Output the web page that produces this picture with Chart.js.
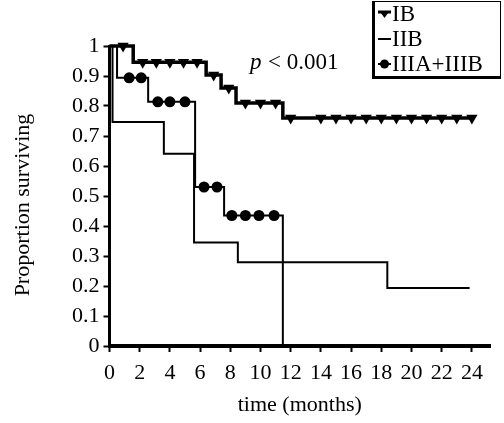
<!DOCTYPE html>
<html>
<head>
<meta charset="utf-8">
<script src="https://cdn.jsdelivr.net/npm/chart.js@4.4.0/dist/chart.umd.min.js"></script>
<style>
  html, body { margin: 0; padding: 0; background: #fff; }
  #wrap { width: 504px; height: 423px; }
</style>
</head>
<body>
<div id="wrap"><canvas id="km"></canvas></div>
<script>
// Kaplan-Meier step curves: [time, proportion] at each step
const groups = ["IB", "IIB", "IIIA+IIIB"];
const ibSteps = [[0, 1], [1.57, 0.946], [6.4, 0.903], [7.39, 0.86], [8.38, 0.81], [11.48, 0.76], [24.1, 0.76]];
const iibSteps = [[0, 1], [0.2, 0.747], [3.6, 0.641], [5.6, 0.345], [8.5, 0.279], [18.4, 0.193], [23.85, 0.193]];
const iiiSteps = [[0, 1], [0.5, 0.894], [2.56, 0.814], [5.67, 0.53], [7.59, 0.435], [11.48, 0]];

// censored observations
const ibCensored = [[0.9, 1], [2.2, 0.946], [3.1, 0.946], [4.0, 0.946], [4.9, 0.946], [5.8, 0.946],
  [6.9, 0.903], [7.9, 0.86], [9.0, 0.81], [10.0, 0.81], [11.0, 0.81],
  [12, 0.76], [14, 0.76], [15, 0.76], [16, 0.76], [17, 0.76], [18, 0.76], [19, 0.76],
  [20, 0.76], [21, 0.76], [22, 0.76], [23, 0.76], [24, 0.76]];
const iiiCensored = [[1.3, 0.894], [2.1, 0.894], [3.2, 0.814], [4.0, 0.814], [5.0, 0.814],
  [6.26, 0.53], [7.12, 0.53], [8.1, 0.435], [9.0, 0.435], [9.9, 0.435], [10.9, 0.435]];

const xTicks = [0, 2, 4, 6, 8, 10, 12, 14, 16, 18, 20, 22, 24];
const yTicks = [0, 0.1, 0.2, 0.3, 0.4, 0.5, 0.6, 0.7, 0.8, 0.9, 1];
const pText = "< 0.001";
const yTitle = "Proportion surviving";

const toPts = arr => arr.map(([x, y]) => ({x, y}));
const serif = "'Liberation Serif', 'DejaVu Serif', serif";

const overlay = {
  id: "overlay",
  afterDraw(chart) {
    const ctx = chart.ctx;
    ctx.save();
    ctx.fillStyle = "#000";
    ctx.textBaseline = "middle";

    // y axis title (drawn here so it can sit a little below centre, as in the original)
    ctx.save();
    ctx.translate(23, 205);
    ctx.rotate(-Math.PI / 2);
    ctx.textAlign = "center";
    ctx.font = "22px " + serif;
    ctx.fillText(yTitle, 0, 0);
    ctx.restore();

    // p value
    ctx.font = "italic 23px " + serif;
    ctx.fillText("p", 250, 63);
    ctx.font = "23px " + serif;
    ctx.fillText(pText, 268, 63);

    // legend box
    ctx.strokeStyle = "#000";
    ctx.lineWidth = 1;
    ctx.strokeRect(373.5, 1.5, 127, 76);
    ctx.fillRect(372, 1, 3, 78);
    ctx.fillRect(372, 76, 129, 3);

    const rows = [14, 39, 64];
    ctx.font = "23px " + serif;
    // IB
    ctx.lineWidth = 3;
    ctx.beginPath(); ctx.moveTo(378, rows[0] - 2); ctx.lineTo(391, rows[0] - 2); ctx.stroke();
    ctx.beginPath(); ctx.moveTo(379.5, rows[0] - 3); ctx.lineTo(389.5, rows[0] - 3); ctx.lineTo(384.5, rows[0] + 4); ctx.closePath(); ctx.fill();
    ctx.fillText(groups[0], 392, rows[0] + 1);
    // IIB
    ctx.lineWidth = 2;
    ctx.beginPath(); ctx.moveTo(378, rows[1]); ctx.lineTo(391, rows[1]); ctx.stroke();
    ctx.fillText(groups[1], 392, rows[1] + 1);
    // IIIA+IIIB
    ctx.beginPath(); ctx.moveTo(378, rows[2]); ctx.lineTo(391, rows[2]); ctx.stroke();
    ctx.beginPath(); ctx.arc(384.5, rows[2], 4.5, 0, Math.PI * 2); ctx.fill();
    ctx.fillText(groups[2], 392, rows[2] + 1);
    ctx.restore();
  }
};

new Chart(document.getElementById("km"), {
  type: "line",
  data: {
    datasets: [
      { label: groups[0], data: toPts(ibSteps), stepped: "before", borderColor: "#000", borderWidth: 3.5, pointRadius: 0, clip: false },
      { label: groups[1], data: toPts(iibSteps), stepped: "before", borderColor: "#000", borderWidth: 2, pointRadius: 0, clip: false },
      { label: groups[2], data: toPts(iiiSteps), stepped: "before", borderColor: "#000", borderWidth: 2, pointRadius: 0, clip: false },
      { label: groups[0] + " censored", data: toPts(ibCensored), showLine: false, pointStyle: "triangle", rotation: 180,
        pointRadius: 6.5, backgroundColor: "#000", borderColor: "#000", borderWidth: 0, clip: false },
      { label: groups[2] + " censored", data: toPts(iiiCensored), showLine: false, pointStyle: "circle",
        pointRadius: 5.5, backgroundColor: "#000", borderColor: "#000", borderWidth: 0, clip: false }
    ]
  },
  options: {
    responsive: true,
    maintainAspectRatio: false,
    animation: false,
    layout: { padding: { left: 0, right: 14, top: 46, bottom: 4 } },
    plugins: { legend: { display: false }, tooltip: { enabled: false } },
    scales: {
      x: {
        type: "linear",
        min: 0,
        max: 25.2,
        afterFit: s => { s.height = 73; },
        afterBuildTicks: s => { s.ticks = xTicks.map(v => ({value: v})); },
        ticks: { color: "#000", font: { family: serif, size: 22 }, padding: 8, maxRotation: 0, autoSkip: false },
        grid: { display: true, drawOnChartArea: false, drawTicks: true, tickLength: 6, tickWidth: 2, color: "#000" },
        border: { display: true, color: "#000", width: 4 },
        title: { display: true, text: "time (months)", color: "#000", font: { family: serif, size: 22 }, padding: { top: 0, bottom: 1 } }
      },
      y: {
        min: 0,
        max: 1,
        afterFit: s => { s.width = 109.5; },
        afterBuildTicks: s => { s.ticks = yTicks.map(v => ({value: v})); },
        ticks: { color: "#000", font: { family: serif, size: 22 }, padding: 4, autoSkip: false,
          callback: v => String(+v.toFixed(1)) },
        grid: { display: true, drawOnChartArea: false, drawTicks: true, tickLength: 6, tickWidth: 2, color: "#000" },
        border: { display: true, color: "#000", width: 3 },
        title: { display: false }
      }
    }
  },
  plugins: [overlay]
});
</script>
</body>
</html>
